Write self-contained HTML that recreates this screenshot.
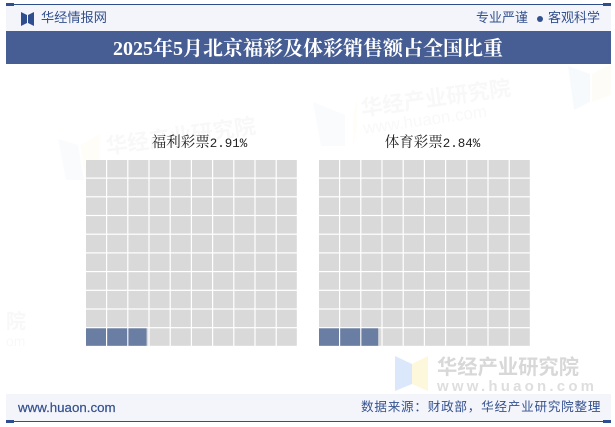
<!DOCTYPE html>
<html lang="zh">
<head>
<meta charset="utf-8">
<title>2025年5月北京福彩及体彩销售额占全国比重</title>
<style>
html,body{margin:0;padding:0;background:#fff;}
#page{position:relative;width:615px;height:427px;overflow:hidden;background:#fff;font-family:"Liberation Sans","Noto Sans CJK SC",sans-serif;}
#page div{position:absolute;white-space:nowrap;}
svg{position:absolute;left:0;top:0;}
</style>
</head>
<body>
<div id="page">
  <div style="left:6px;top:5px;width:605px;height:26px;background:#f3f5fa;"></div>
  <div style="left:6px;top:4px;width:605px;height:1px;background:#2f4e8e;"></div>
  <div style="left:6px;top:3px;width:8px;height:3px;background:#2f4e8e;"></div>
  <div style="left:603px;top:3px;width:8px;height:3px;background:#2f4e8e;"></div>
  <div style="left:41px;top:9px;font-size:13.2px;line-height:18px;color:#34518f;">华经情报网</div>
  <div style="left:476px;top:9px;font-size:13px;line-height:18px;letter-spacing:0px;color:#34518f;">专业严谨</div>
  <div style="left:548px;top:9px;font-size:13px;line-height:18px;color:#34518f;">客观科学</div>
  <div style="left:537px;top:16px;width:6px;height:6px;border-radius:50%;background:#34518f;"></div>
  <div style="left:6px;top:31px;width:605px;height:33px;background:#465e94;"></div>
  <div style="left:113px;top:36px;font-family:'Liberation Serif','Noto Serif CJK SC',serif;font-weight:bold;font-size:20px;line-height:26px;color:#fff;">2025年5月北京福彩及体彩销售额占全国比重</div>
  <div style="left:6px;top:394px;width:605px;height:27px;background:#f3f5fa;"></div>
  <div style="left:6px;top:421px;width:605px;height:1px;background:#2f4e8e;"></div>
  <div style="left:6px;top:420px;width:8px;height:3px;background:#2f4e8e;"></div>
  <div style="left:603px;top:420px;width:8px;height:3px;background:#2f4e8e;"></div>
  <div style="left:18px;top:399px;font-size:13.3px;line-height:17px;color:#34518f;-webkit-text-stroke:0.2px #34518f;">www.huaon.com</div>
  <div style="left:361px;top:398px;font-size:12.6px;line-height:18px;letter-spacing:0.75px;color:#34518f;">数据来源：财政部，华经产业研究院整理</div>

  <svg id="art" width="615" height="427" viewBox="0 0 615 427">
    <g>
      <polygon points="21,12 27,15 27,23 21,26" fill="#2f4e8e"/>
      <polygon points="34,12 28,15 28,23 34,26" fill="#2f4e8e"/>
    </g>
    <g style="opacity:.03;font-family:'Liberation Sans','Noto Sans CJK SC',sans-serif;">
      <polygon points="313,102 345,115 345,146 321,146" fill="#5a8fe0"/>
      <polygon points="353,115 357,100 357,130 353,146" fill="#f2d04a"/>
      <text x="362" y="116" transform="rotate(-8 362 116)" font-size="21.6" font-weight="bold" fill="#444">华经产业研究院</text>
      <text x="364" y="134" transform="rotate(-8 364 134)" font-size="17" fill="#444">www.huaon.com</text>
    </g>
    <g style="opacity:.03;font-family:'Liberation Sans','Noto Sans CJK SC',sans-serif;">
      <polygon points="58,139 78,145 84,180 66,180" fill="#5a8fe0"/>
      <polygon points="80,145 100,134 100,165 86,180" fill="#f2d04a"/>
      <text x="107" y="154" transform="rotate(-8 107 154)" font-size="21.6" font-weight="bold" fill="#444">华经产业研究院</text>
    </g>
    <g style="opacity:.04;">
      <polygon points="568,66 590,74 590,102 574,110" fill="#5a8fe0"/>
      <polygon points="592,74 611,64 611,95 592,102" fill="#f2d04a"/>
    </g>
    <g style="opacity:.03;font-family:'Liberation Sans','Noto Sans CJK SC',sans-serif;">
      <text x="6" y="328" font-size="20" font-weight="bold" fill="#444">院</text>
      <text x="6" y="346" font-size="14" fill="#444">om</text>
    </g>
    <g style="font-family:'Liberation Sans','Noto Sans CJK SC',sans-serif;">
      <polygon points="395,356 412,364 412,384 395,391" fill="#dbe8fb"/>
      <polygon points="428,356 412,364 412,384 428,391" fill="#fdf7dc"/>
      <text x="437" y="374" font-size="20.3" font-weight="bold" fill="#d8d8d8">华经产业研究院</text>
      <text x="437" y="391" font-size="15" font-weight="bold" letter-spacing="3.2" fill="#dedede">www.huaon.com</text>
    </g>
    <g id="plots"></g>
  </svg>
</div>
<script>
const categories = ['福利彩票', '体育彩票'];
const shareValues = [2.91, 2.84];
const valueLabels = ['2.91%', '2.84%'];
const gridCols = 10;
const gridRows = 10;

const SVGNS = 'http://www.w3.org/2000/svg';
const plots = document.getElementById('plots');
const panelLeft = [86, 319];
const panelW = 212, panelH = 187, panelTop = 160;
const gap = 1.2;

function xScale(p, col) { return panelLeft[p] + col * panelW / gridCols; }
function yScale(row) { return panelTop + panelH - (row + 1) * panelH / gridRows; }

function addCell(parent, x, y, w, h, fill, name) {
  const r = document.createElementNS(SVGNS, 'rect');
  r.setAttribute('x', x);
  r.setAttribute('y', y);
  r.setAttribute('width', w);
  r.setAttribute('height', h);
  r.setAttribute('fill', fill);
  
  
  parent.appendChild(r);
}

categories.forEach(function (cat, p) {
  const g = document.createElementNS(SVGNS, 'g');
  
  
  plots.appendChild(g);

  const label = document.createElementNS(SVGNS, 'text');
  
  
  label.setAttribute('x', panelLeft[p] + panelW / 2 + 7.5);
  label.setAttribute('y', 147);
  label.setAttribute('text-anchor', 'middle');
  label.setAttribute('fill', '#222');
  label.setAttribute('style', "font-family:'Liberation Serif','Noto Serif CJK SC',serif;font-size:14.5px;");
  label.appendChild(document.createTextNode(cat));
  const num = document.createElementNS(SVGNS, 'tspan');
  
  
  num.setAttribute('style', "font-family:'Liberation Mono',monospace;font-size:12.5px;");
  num.textContent = valueLabels[p];
  label.appendChild(num);
  g.appendChild(label);

  const cw = panelW / gridCols - gap;
  const ch = panelH / gridRows - gap;
  const total = gridCols * gridRows;
  for (let i = 0; i < total; i++) {
    const col = i % gridCols;
    const row = Math.floor(i / gridCols);
    const x = xScale(p, col);
    const y = yScale(row);
    addCell(g, x, y, cw, ch, '#d9d9d9', 'waffle-cell');
    const frac = Math.max(0, Math.min(1, shareValues[p] - i));
    if (frac > 0) {
      addCell(g, x, y, cw * frac, ch, '#6a7da3', 'waffle-cell-filled');
    }
  }
});
</script>
</body>
</html>
